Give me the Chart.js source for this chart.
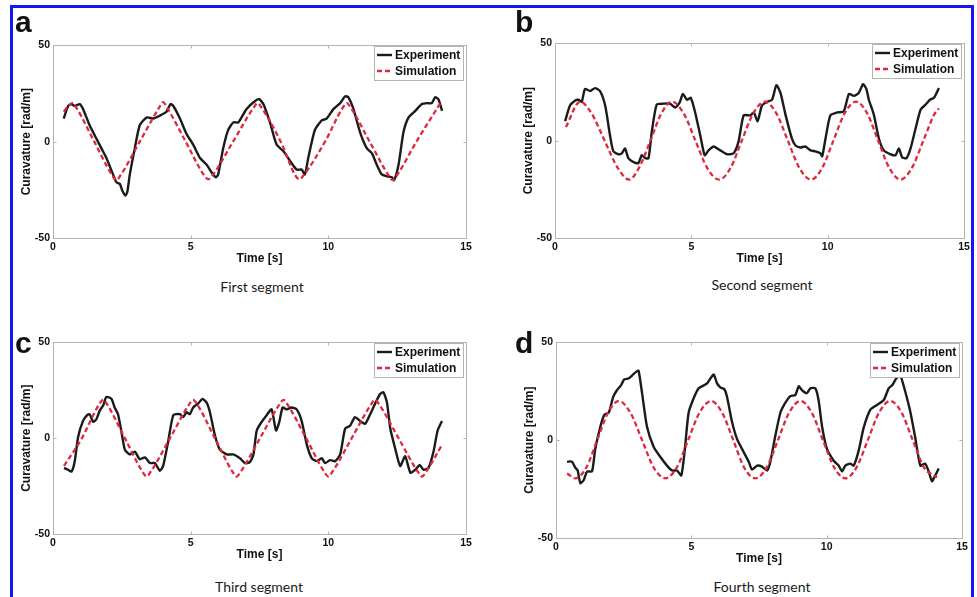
<!DOCTYPE html>
<html>
<head>
<meta charset="utf-8">
<script src="https://cdn.jsdelivr.net/npm/chart.js@4.4.1/dist/chart.umd.min.js"></script>
<style>
  html, body { margin: 0; padding: 0; background: #fff; }
  body { width: 977px; height: 597px; position: relative; overflow: hidden; }
  .frame { position: absolute; left: 10px; top: 5px; width: 964px; height: 640px;
           border: 3px solid #1616f2; box-sizing: border-box; z-index: 5; pointer-events: none; }
  .panel { position: absolute; }
  .letter { position: absolute; font: bold 30px 'Liberation Sans', Arial, sans-serif; line-height: 1; color: #111; }
  .caption { position: absolute; font: 14px Lato, 'Open Sans', sans-serif; line-height: 1; color: #1a1a1a;
             transform: translateX(-50%); white-space: nowrap; }
</style>
</head>
<body>
<div class="frame"></div>
<div id="root"></div>
<script>
// ---- data ----
const xTickValues = [0, 5, 10, 15];
const yTickValues = [-50, 0, 50];
const seriesLabels = ['Experiment', 'Simulation'];
const panelLetters = ['a', 'b', 'c', 'd'];
const panelCaptions = ['First segment', 'Second segment', 'Third segment', 'Fourth segment'];

// (a) first segment
const aExpTime = [0.39,0.55,0.67,0.79,0.97,1.09,1.33,1.58,1.76,1.94,2.18,2.30,2.43,2.52,2.63,2.70,2.79,2.97,3.15,3.40,3.64,3.88,4.12,4.27,4.37,4.61,4.85,5.09,5.34,5.58,5.76,5.92,6.00,6.18,6.36,6.55,6.73,7.03,7.33,7.49,7.64,7.88,8.12,8.37,8.61,8.85,9.03,9.15,9.27,9.51,9.76,9.94,10.19,10.43,10.61,10.73,10.91,11.15,11.40,11.58,11.76,11.94,12.13,12.31,12.39,12.55,12.73,12.91,13.16,13.40,13.58,13.76,13.88,14.00,14.13];
const aExpCurv = [12,18.5,19.5,18.5,19.5,17,8.5,1.5,-3.5,-8.5,-17,-21,-22,-25.5,-28,-26,-17,-3.5,8.5,12.5,12,13.5,15.5,19.5,18.5,12,4,-1.5,-8.5,-12,-16,-18.5,-17,-3.5,6,10,10,17,21,22,19.5,10,-1.5,-5,-10,-14.5,-14.5,-17,-8.5,6,11,12,17,20,23.5,23,17,5,-3.5,-6,-12,-17,-18,-18.5,-20,-12,5,12.5,16,19.5,20,20,23,22,16];
const aSimTime = [0.39,0.55,0.70,0.85,1.5,2.15,2.30,2.45,3.15,3.85,4.00,4.15,4.82,5.49,5.64,5.79,6.54,7.28,7.43,7.58,8.27,8.80,8.95,9.10,9.88,10.52,10.67,10.82,11.5,12.19,12.34,12.49,13.2,14.07];
const aSimCurv = [15.5,18.5,20,17.5,0,-17.5,-20,-17.5,0,17.5,20.5,17.5,0,-17.5,-19.5,-17.5,0,17.5,20,17.5,0,-17.5,-19.5,-17.5,0,17.5,20,17.5,0,-17.5,-20,-17.5,0,20];

// (b) second segment
const bExpTime = [0.37,0.55,0.73,0.86,0.98,1.10,1.29,1.47,1.65,1.84,2.02,2.14,2.33,2.45,2.57,2.69,2.88,3.06,3.18,3.31,3.43,3.55,3.73,3.98,4.22,4.41,4.57,4.69,4.84,4.98,5.14,5.33,5.49,5.63,5.82,6.06,6.31,6.55,6.73,6.92,7.16,7.29,7.43,7.59,7.78,7.96,8.12,8.27,8.45,8.69,8.82,9.00,9.18,9.37,9.55,9.73,9.80,9.92,10.10,10.35,10.59,10.78,10.96,11.14,11.30,11.42,11.51,11.69,11.88,12.06,12.31,12.49,12.61,12.73,12.89,13.04,13.22,13.41,13.59,13.75,13.90,14.08];
const bExpCurv = [10,18,20.5,21,20,26.5,25.5,27,25.5,18,2.5,-5.5,-7,-6.5,-4,-9,-11,-11.5,-7.5,-9,-9,4.5,18.5,19,19,17,19.5,24,21,22,14.5,2.5,-7.5,-5,-3,-5,-7,-6.5,-0.5,13,13,14.5,10,18,20,21,28.5,24.5,13.5,1,-2.5,-3.5,-3,-5,-5.5,-6.5,-8,1,13,14.5,15,24,23,24.5,29,26.5,21,13.5,1,-5,-7,-7.5,-4,-8.5,-9,-4,6,16,18.5,21,22,27];
const bSimTime = [0.40,0.92,1.34,1.82,2.30,2.72,3.08,3.50,3.90,4.29,4.72,5.15,5.58,6.02,6.44,6.85,7.27,7.69,8.12,8.54,8.96,9.39,9.80,10.21,10.62,11.04,11.45,11.85,12.26,12.67,13.09,13.51,13.93,14.08];
const bSimCurv = [7,20,14,0,-14,-20,-14,0,14,20,14,0,-14,-20,-14,0,14,20,14,0,-14,-20,-14,0,14,20,14,0,-14,-20,-14,0,14,16.5];

// (c) third segment
const cExpTime = [0.40,0.55,0.67,0.79,0.91,1.09,1.24,1.33,1.46,1.58,1.70,1.82,1.94,2.12,2.24,2.36,2.49,2.61,2.79,2.97,3.15,3.34,3.52,3.70,3.88,4.00,4.18,4.37,4.61,4.73,4.85,4.97,5.09,5.27,5.43,5.58,5.70,5.88,6.06,6.31,6.55,6.79,6.97,7.15,7.28,7.40,7.58,7.76,7.94,8.10,8.22,8.34,8.49,8.67,8.85,9.03,9.22,9.40,9.58,9.76,9.88,10.06,10.25,10.43,10.61,10.79,10.97,11.15,11.34,11.52,11.70,11.88,12.00,12.13,12.25,12.43,12.61,12.79,12.98,13.16,13.32,13.46,13.64,13.82,13.97,14.13];
const cExpCurv = [-15.5,-16.5,-17.5,-12,0.5,9,12,12.5,8.5,10,14.5,17,21.5,20.5,16,12.5,3,-6,-8.5,-7,-11,-10,-13,-13,-17,-14.5,-2,12,12.5,11,13.5,12.5,16,18,20.5,18.5,13.5,1.5,-6,-8.5,-8.5,-10.5,-13,-12.5,-8.5,4,8.5,12,15,4,8.5,16,15,16,15,9,-3.5,-10.5,-12,-10.5,-13,-11.5,-12,-8.5,5,6.5,11,9,7.5,12.5,18,23,24,18.5,5,-5.5,-14.5,-9.5,-18,-16.5,-14,-16.5,-15.5,-7,4,9];
const cSimTime = [0.40,1.05,1.67,1.82,1.97,2.61,3.25,3.40,3.55,4.25,4.94,5.09,5.24,5.88,6.52,6.67,6.82,7.52,8.22,8.37,8.52,9.19,9.85,10.0,10.15,10.85,11.55,11.70,11.85,12.55,13.25,13.40,13.55,14.13];
const cSimCurv = [-14.5,0,17.5,20,17.5,0,-17.5,-20,-17.5,0,17.5,20,17.5,0,-17.5,-20,-17.5,0,17.5,20,17.5,0,-17.5,-20,-17.5,0,17.5,20,17.5,0,-17.5,-20,-17.5,-3.5];

// (d) fourth segment
const dExpTime = [0.41,0.59,0.71,0.80,0.90,1.02,1.15,1.33,1.45,1.64,1.79,1.95,2.11,2.25,2.40,2.52,2.68,2.81,2.97,3.05,3.18,3.36,3.61,3.85,4.10,4.29,4.47,4.63,4.75,4.90,5.09,5.27,5.46,5.58,5.73,5.83,5.95,6.07,6.22,6.32,6.50,6.69,6.93,7.12,7.24,7.43,7.61,7.80,7.92,8.10,8.29,8.47,8.66,8.84,8.97,9.09,9.27,9.40,9.58,9.70,9.83,10.01,10.26,10.44,10.57,10.69,10.87,11.00,11.18,11.37,11.61,11.86,12.11,12.29,12.42,12.57,12.72,12.90,13.09,13.27,13.46,13.64,13.77,13.89,14.01,14.14];
const dExpCurv = [-11,-11,-14,-15.5,-22,-20.5,-16,-16,-4.5,7,13,14,22,25.5,28,31,31.5,33,35,35.5,24,7,-3.5,-8.5,-13,-15.5,-15.5,-18,-6,14,21.5,26.5,28,29,32,33.5,29,27,26,22,9.5,0.5,-6,-11,-15,-13,-13.5,-15.5,-11,2,14,19,22.5,23,27.5,25.5,24,26.5,26.5,20.5,7,-4.5,-10.5,-13,-16,-13,-12,-13,-5.5,6.5,15.5,18,20.5,26.5,28,31.5,33,25,14.5,1.5,-13,-12,-16,-21,-18,-14.5];
const dSimTime = [0.41,0.71,1.12,1.52,1.92,2.32,2.75,3.18,3.61,4.04,4.46,4.88,5.30,5.73,6.14,6.55,6.95,7.36,7.78,8.20,8.61,9.03,9.45,9.86,10.28,10.69,11.10,11.52,11.93,12.35,12.77,13.18,13.60,14.08];
const dSimCurv = [-17,-19.5,-14,0,14,20,14,0,-14,-19.5,-14,0,14,20,14,0,-14,-19.5,-14,0,14,20,14,0,-14,-19.5,-14,0,14,20,14,0,-14,-19];

// ---- layout / style ----
const C = { exp: '#1b1b1b', sim: '#e0283c', box: '#b4b4b4', text: '#111' };
const FONT = "'Liberation Sans', Arial, sans-serif";

const panels = [
  { exp: [aExpTime, aExpCurv], sim: [aSimTime, aSimCurv], area: { l: 53, t: 42, r: 466, b: 238 }, letter: [15, 7], caption: [262, 280] },
  { exp: [bExpTime, bExpCurv], sim: [bSimTime, bSimCurv], area: { l: 555, t: 40, r: 964, b: 238 }, letter: [515, 7], caption: [762, 278] },
  { exp: [cExpTime, cExpCurv], sim: [cSimTime, cSimCurv], area: { l: 53, t: 339, r: 466, b: 534 }, letter: [15, 328], caption: [259, 580] },
  { exp: [dExpTime, dExpCurv], sim: [dSimTime, dSimCurv], area: { l: 556, t: 339, r: 962, b: 538 }, letter: [515, 328], caption: [762, 580] },
];

const Y_AXIS_W = 34, X_AXIS_H = 28, PAD_TOP = 6, PAD_RIGHT = 12;

const toPoints = ([t, v]) => t.map((x, i) => ({ x, y: v[i] }));

// plot box all round with small inward ticks, legend inside the top-right corner
const matlabBox = {
  id: 'matlabBox',
  beforeDatasetsDraw(chart) {
    const { ctx, chartArea: a, scales } = chart;
    const L = Math.round(a.left) + 0.5, T = Math.round(a.top) + 0.5;
    const R = Math.round(a.right) + 0.5, B = Math.round(a.bottom) + 0.5;
    ctx.save();
    ctx.strokeStyle = C.box;
    ctx.lineWidth = 1;
    ctx.strokeRect(L, T, R - L, B - T);
    ctx.beginPath();
    xTickValues.forEach((v) => {
      const x = Math.round(scales.x.getPixelForValue(v)) + 0.5;
      ctx.moveTo(x, B); ctx.lineTo(x, B - 3);
      ctx.moveTo(x, T); ctx.lineTo(x, T + 3);
    });
    yTickValues.forEach((v) => {
      const y = Math.round(scales.y.getPixelForValue(v)) + 0.5;
      ctx.moveTo(L, y); ctx.lineTo(L + 3, y);
      ctx.moveTo(R, y); ctx.lineTo(R - 3, y);
    });
    ctx.stroke();
    ctx.restore();
  },
  afterDraw(chart) {
    const { ctx, chartArea: a } = chart;
    const sets = chart.data.datasets;
    ctx.save();
    ctx.font = `bold 12px ${FONT}`;
    const textW = Math.max(...sets.map((d) => ctx.measureText(d.label).width));
    const rowH = 16, sample = 15, gap = 3, pad = 3;
    const w = Math.round(pad + sample + gap + textW + pad), h = rowH * sets.length + 2;
    const x = Math.round(a.right) - 3 - w, y = Math.round(a.top) + 1;
    ctx.fillStyle = '#fff';
    ctx.fillRect(x, y, w, h);
    ctx.strokeStyle = C.box;
    ctx.lineWidth = 1;
    ctx.strokeRect(x + 0.5, y + 0.5, w, h);
    sets.forEach((d, i) => {
      const cy = y + 1 + rowH * i + rowH / 2;
      ctx.beginPath();
      ctx.setLineDash(d.borderDash || []);
      ctx.strokeStyle = d.borderColor;
      ctx.lineWidth = d.borderWidth;
      ctx.moveTo(x + pad, cy);
      ctx.lineTo(x + pad + sample, cy);
      ctx.stroke();
      ctx.setLineDash([]);
      ctx.fillStyle = C.text;
      ctx.textBaseline = 'middle';
      ctx.fillText(d.label, x + pad + sample + gap, cy + 0.5);
    });
    ctx.restore();
  },
};

const root = document.getElementById('root');

panels.forEach((p, idx) => {
  const left = p.area.l - Y_AXIS_W;
  const top = p.area.t - PAD_TOP;
  const width = p.area.r + PAD_RIGHT - left;
  const height = p.area.b + X_AXIS_H - top;

  const wrap = document.createElement('div');
  wrap.className = 'panel';
  wrap.style.cssText = `left:${left}px;top:${top}px;width:${width}px;height:${height}px;`;
  const canvas = document.createElement('canvas');
  canvas.width = width;
  canvas.height = height;
  wrap.appendChild(canvas);
  root.appendChild(wrap);

  const letter = document.createElement('div');
  letter.className = 'letter';
  letter.textContent = panelLetters[idx];
  letter.style.left = p.letter[0] + 'px';
  letter.style.top = p.letter[1] + 'px';
  root.appendChild(letter);

  const cap = document.createElement('div');
  cap.className = 'caption';
  cap.textContent = panelCaptions[idx];
  cap.style.left = p.caption[0] + 'px';
  cap.style.top = p.caption[1] + 'px';
  root.appendChild(cap);

  const tickFont = { family: FONT, size: 10.5, weight: 'bold' };
  const titleFont = { family: FONT, size: 12, weight: 'bold' };

  new Chart(canvas.getContext('2d'), {
    type: 'line',
    data: {
      datasets: [
        { label: seriesLabels[0], data: toPoints(p.exp), borderColor: C.exp, borderWidth: 2.4,
          pointRadius: 0, tension: 0.2, order: 2 },
        { label: seriesLabels[1], data: toPoints(p.sim), borderColor: C.sim, borderWidth: 2.3,
          borderDash: [5, 3], pointRadius: 0, cubicInterpolationMode: 'monotone', order: 1 },
      ],
    },
    options: {
      responsive: false,
      animation: false,
      devicePixelRatio: 1,
      layout: { padding: { top: PAD_TOP, right: PAD_RIGHT, left: 0, bottom: 0 } },
      plugins: { legend: { display: false }, tooltip: { enabled: false } },
      scales: {
        x: {
          type: 'linear', min: 0, max: 15,
          afterBuildTicks: (s) => { s.ticks = xTickValues.map((value) => ({ value })); },
          afterFit: (s) => { s.height = X_AXIS_H; },
          ticks: { font: tickFont, color: C.text, padding: 3, maxRotation: 0 },
          grid: { display: false, drawTicks: false },
          border: { display: false },
          title: { display: true, text: 'Time [s]', font: titleFont, color: C.text, padding: 0 },
        },
        y: {
          min: -50, max: 50,
          afterBuildTicks: (s) => { s.ticks = yTickValues.map((value) => ({ value })); },
          afterFit: (s) => { s.width = Y_AXIS_W; },
          ticks: { font: tickFont, color: C.text, padding: 3 },
          grid: { display: false, drawTicks: false },
          border: { display: false },
          title: { display: true, text: 'Curavature [rad/m]', font: titleFont, color: C.text, padding: 0 },
        },
      },
    },
    plugins: [matlabBox],
  });
});
</script>
</body>
</html>
